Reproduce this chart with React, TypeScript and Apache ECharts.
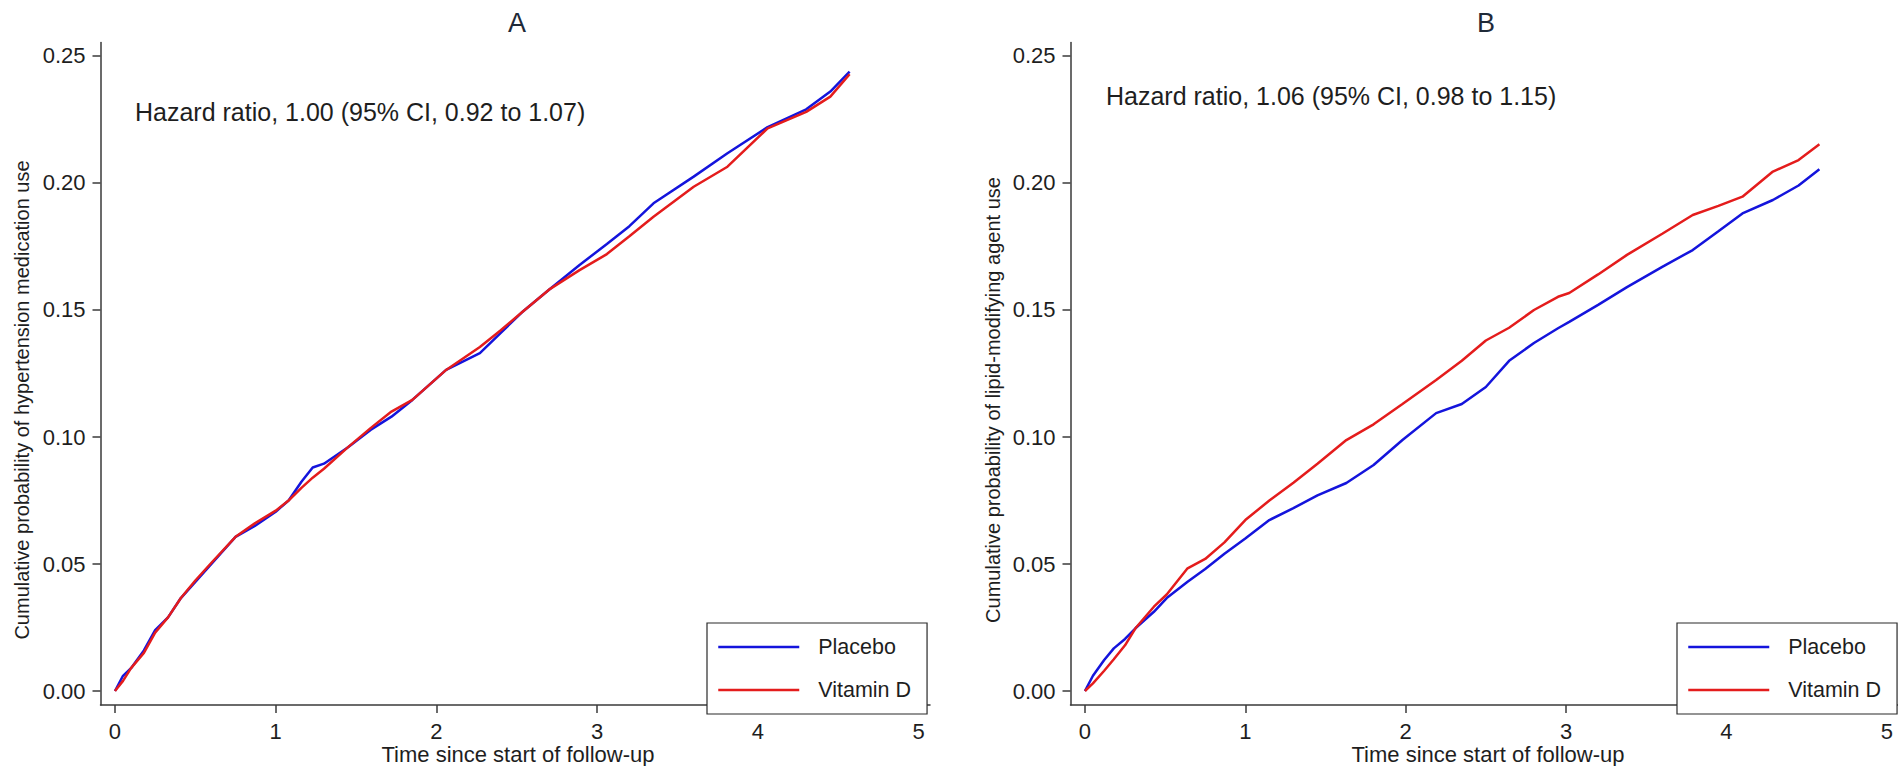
import React, { useEffect, useRef } from "react";
import * as echarts from "echarts";

// ---- Data ----
const timeA = [0, 0.05, 0.1, 0.18, 0.25, 0.33, 0.41, 0.5, 0.6, 0.75, 0.87, 1.0, 1.08, 1.16, 1.23, 1.3, 1.45, 1.59, 1.72, 1.85, 2.06, 2.27, 2.4, 2.53, 2.7, 2.89, 3.06, 3.2, 3.35, 3.6, 3.81, 4.06, 4.3, 4.45, 4.57];
const placeboA = [0, 0.006, 0.009, 0.016, 0.024, 0.029, 0.0366, 0.043, 0.05, 0.0607, 0.065, 0.0706, 0.075, 0.0824, 0.088, 0.0895, 0.096, 0.1028, 0.108, 0.1146, 0.1264, 0.133, 0.141, 0.149, 0.158, 0.1677, 0.176, 0.183, 0.192, 0.2025, 0.2117, 0.222, 0.229, 0.236, 0.2438];
const vitaminDA = [0, 0.004, 0.009, 0.015, 0.023, 0.029, 0.0366, 0.0435, 0.0505, 0.0607, 0.066, 0.071, 0.075, 0.08, 0.084, 0.0875, 0.096, 0.1035, 0.11, 0.1146, 0.1264, 0.1354, 0.142, 0.149, 0.158, 0.1657, 0.172, 0.179, 0.1867, 0.1985, 0.2064, 0.2215, 0.228, 0.234, 0.2428];

const timeB = [0, 0.05, 0.12, 0.18, 0.25, 0.315, 0.43, 0.51, 0.64, 0.75, 0.87, 1.0, 1.15, 1.3, 1.45, 1.63, 1.8, 1.98, 2.19, 2.35, 2.5, 2.645, 2.8, 2.95, 3.02, 3.2, 3.38, 3.6, 3.79, 3.95, 4.1, 4.29, 4.45, 4.58];
const placeboB = [0, 0.006, 0.0122, 0.0168, 0.0205, 0.0247, 0.0312, 0.0366, 0.043, 0.048, 0.054, 0.06, 0.0673, 0.072, 0.077, 0.0819, 0.089, 0.0988, 0.1094, 0.113, 0.1197, 0.13, 0.137, 0.1428, 0.1453, 0.152, 0.159, 0.167, 0.1736, 0.181, 0.188, 0.1933, 0.199, 0.2054];
const vitaminDB = [0, 0.003, 0.008, 0.0125, 0.018, 0.0247, 0.0332, 0.038, 0.0483, 0.052, 0.0585, 0.0673, 0.075, 0.082, 0.0895, 0.0988, 0.105, 0.113, 0.1224, 0.13, 0.138, 0.143, 0.15, 0.1552, 0.1567, 0.164, 0.1717, 0.18, 0.1874, 0.191, 0.1946, 0.2045, 0.209, 0.2152];

const xTicks = [0, 1, 2, 3, 4, 5];
const yTicks = [0, 0.05, 0.1, 0.15, 0.2, 0.25];
const seriesNames = ["Placebo", "Vitamin D"];
const panelTitles = ["A", "B"];
const hazardTexts = [
  "Hazard ratio, 1.00 (95% CI, 0.92 to 1.07)",
  "Hazard ratio, 1.06 (95% CI, 0.98 to 1.15)",
];
const yTitles = [
  "Cumulative probability of hypertension medication use",
  "Cumulative probability of lipid-modifying agent use",
];
const xTitle = "Time since start of follow-up";

// ---- Styles ----
const FONT = "'Liberation Sans', Arial, Helvetica, sans-serif";
const AXIS = "#3a3a3a";
const TEXT = "#1e1e1e";
const BLUE = "#1414dc";
const RED = "#e41c1c";

const grids = [
  { left: 100.5, top: 42.5, width: 829.5, height: 662.5 },
  { left: 1070.5, top: 42.5, width: 829.5, height: 662.5 },
];
const legendLeft = [707, 1677];
const titlePos = [[517, 23], [1486, 23]];
const hazardPos = [[135, 112], [1106, 96]];
const yTitlePos = [[22, 400], [993, 400]];
const xTitlePos = [[518, 754], [1488, 754]];

export default function App() {
  const ref = useRef<HTMLDivElement>(null);

  useEffect(() => {
    if (!ref.current) return;
    const chart = echarts.init(ref.current, undefined, { renderer: "svg" });

    const panels = [
      { time: timeA, placebo: placeboA, vitd: vitaminDA },
      { time: timeB, placebo: placeboB, vitd: vitaminDB },
    ];

    const series: any[] = [];
    panels.forEach((p, i) => {
      series.push({
        name: seriesNames[0],
        type: "line",
        xAxisIndex: i,
        yAxisIndex: i,
        data: p.time.map((t, k) => [t, p.placebo[k]]),
        symbol: "none",
        lineStyle: { color: BLUE, width: 2.5 },
        itemStyle: { color: BLUE },
        z: 2,
      });
      series.push({
        name: seriesNames[1],
        type: "line",
        xAxisIndex: i,
        yAxisIndex: i,
        data: p.time.map((t, k) => [t, p.vitd[k]]),
        symbol: "none",
        lineStyle: { color: RED, width: 2.5 },
        itemStyle: { color: RED },
        z: 3,
      });
    });

    const graphic: any[] = [];
    [0, 1].forEach((i) => {
      graphic.push({
        type: "text",
        x: titlePos[i][0],
        y: titlePos[i][1],
        style: { text: panelTitles[i], font: `27px ${FONT}`, fill: "#1f2a38", align: "center", verticalAlign: "middle" },
      });
      graphic.push({
        type: "text",
        x: hazardPos[i][0],
        y: hazardPos[i][1],
        style: { text: hazardTexts[i], font: `25px ${FONT}`, fill: TEXT, align: "left", verticalAlign: "middle" },
      });
      graphic.push({
        type: "text",
        x: yTitlePos[i][0],
        y: yTitlePos[i][1],
        rotation: Math.PI / 2,
        style: { text: yTitles[i], font: `20px ${FONT}`, fill: TEXT, align: "center", verticalAlign: "middle" },
      });
      graphic.push({
        type: "text",
        x: xTitlePos[i][0],
        y: xTitlePos[i][1],
        style: { text: xTitle, font: `22px ${FONT}`, fill: TEXT, align: "center", verticalAlign: "middle" },
      });
    });

    chart.setOption({
      animation: false,
      backgroundColor: "#ffffff",
      grid: grids,
      xAxis: grids.map((_, i) => ({
        type: "value",
        gridIndex: i,
        min: -0.09,
        max: 5.07,
        axisLine: { show: true, onZero: false, lineStyle: { color: AXIS, width: 1.5 } },
        axisTick: { show: true, customValues: xTicks, length: 8, lineStyle: { color: AXIS, width: 1.5 } },
        axisLabel: {
          customValues: xTicks,
          margin: 15.5,
          fontSize: 22,
          lineHeight: 22,
          color: TEXT,
          fontFamily: FONT,
        },
        splitLine: { show: false },
      })),
      yAxis: grids.map((_, i) => ({
        type: "value",
        gridIndex: i,
        min: -0.0055,
        max: 0.2553,
        axisLine: { show: true, onZero: false, lineStyle: { color: AXIS, width: 1.5 } },
        axisTick: { show: true, customValues: yTicks, length: 8, lineStyle: { color: AXIS, width: 1.5 } },
        axisLabel: {
          customValues: yTicks,
          margin: 15,
          fontSize: 22,
          color: TEXT,
          fontFamily: FONT,
          formatter: (v: number) => v.toFixed(2),
        },
        splitLine: { show: false },
      })),
      legend: [0, 1].map((i) => ({
        orient: "vertical",
        left: legendLeft[i],
        top: 623,
        data: seriesNames,
        selectedMode: false,
        borderColor: "#2a2a2a",
        borderWidth: 1.2,
        backgroundColor: "#ffffff",
        padding: [13, 16, 13, 10],
        itemWidth: 81,
        itemHeight: 14,
        itemGap: 21,
        itemStyle: { opacity: 0 },
        lineStyle: { width: 2.5 },
        textStyle: { fontSize: 21.5, fontFamily: FONT, color: TEXT, padding: [0, 0, 0, 14] },
      })),
      series,
      graphic,
    });

    return () => chart.dispose();
  }, []);

  return (
    <div
      ref={ref}
      style={{ position: "fixed", left: 0, top: 0, width: 1898, height: 766, background: "#fff" }}
    />
  );
}
